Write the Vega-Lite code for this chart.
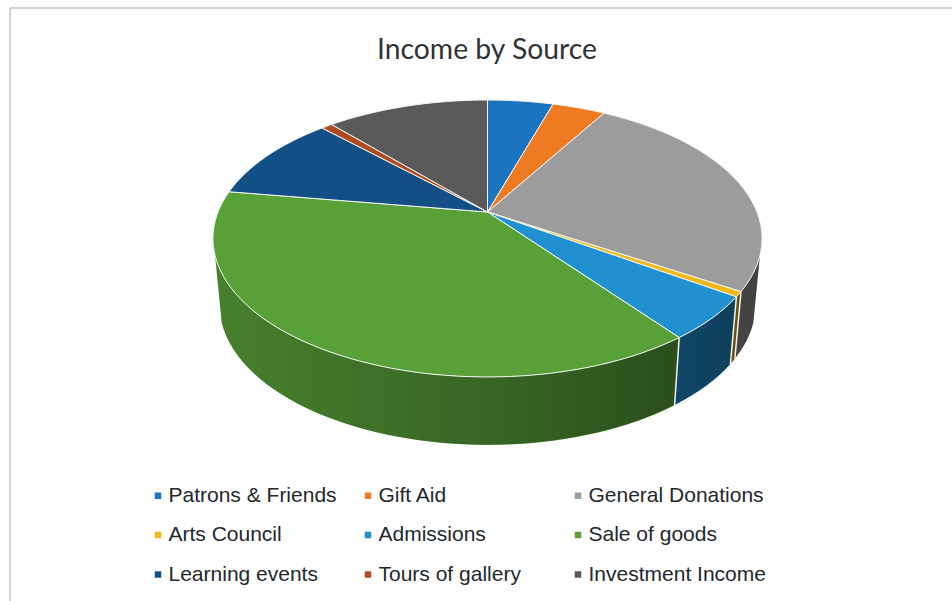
{
  "$schema": "https://vega.github.io/schema/vega-lite/v6.json",
  "width": 952,
  "height": 601,
  "padding": 0,
  "autosize": "none",
  "background": "#fefefe",
  "title": {
    "text": "Income by Source",
    "orient": "top",
    "anchor": "middle",
    "dx": 11,
    "offset": -65,
    "font": "Lato",
    "fontSize": 28.3,
    "fontWeight": "normal",
    "color": "#2f3336"
  },
  "data": {
    "values": [
      {"source": "Patrons & Friends", "share": 4.65},
      {"source": "Gift Aid", "share": 3.75},
      {"source": "General Donations", "share": 25.6},
      {"source": "Arts Council", "share": 0.6},
      {"source": "Admissions", "share": 5.1},
      {"source": "Sale of goods", "share": 37.8},
      {"source": "Learning events", "share": 10.2},
      {"source": "Tours of gallery", "share": 0.8},
      {"source": "Investment Income", "share": 11.5}
    ]
  },
  "transform": [
    {"window": [{"op": "sum", "field": "share", "as": "cum"}]},
    {"calculate": "datum.cum - datum.share", "as": "from"}
  ],
  "encoding": {
    "x": {"datum": 487.5, "type": "quantitative", "scale": {"domain": [0, 952], "nice": false, "zero": false}, "axis": null},
    "y": {"datum": 212, "type": "quantitative", "scale": {"domain": [0, 601], "nice": false, "zero": false, "reverse": true}, "axis": null}
  },
  "layer": [
    {
      "transform": [{"aggregate": [{"op": "count", "as": "n"}]}],
      "mark": {"type": "rule", "color": "#c4c4c4", "strokeWidth": 1.5},
      "encoding": {"x": {"datum": 10}, "y": {"datum": 8}, "y2": {"datum": 601}}
    },
    {
      "transform": [{"aggregate": [{"op": "count", "as": "n"}]}],
      "mark": {"type": "rule", "color": "#c4c4c4", "strokeWidth": 1.5},
      "encoding": {"x": {"datum": 10}, "x2": {"datum": 952}, "y": {"datum": 8}}
    },
    {
      "description": "Side wall of each slice on the visible front of the disc",
      "transform": [
        {"calculate": "max(datum.from * 3.6, 108) * PI / 180", "as": "t1"},
        {"calculate": "min(datum.cum * 3.6, 252) * PI / 180", "as": "t2"},
        {"filter": "datum.t2 > datum.t1"},
        {"calculate": "1 + 0.191 * cos(datum.t1)", "as": "w1"},
        {"calculate": "1 + 0.191 * cos(datum.t2)", "as": "w2"},
        {"calculate": "'M' + round(26950 * sin(datum.t1) / datum.w1) / 100 + ',' + round(-13340 * cos(datum.t1) / datum.w1) / 100 + 'A274.5,138.5,0,0,1,' + round(26950 * sin(datum.t2) / datum.w2) / 100 + ',' + round(-13340 * cos(datum.t2) / datum.w2) / 100 + 'L' + round(26300 * sin(datum.t2) / datum.w2) / 100 + ',' + round(6630 - 13480 * cos(datum.t2) / datum.w2) / 100 + 'A268,140,0,0,0,' + round(26300 * sin(datum.t1) / datum.w1) / 100 + ',' + round(6630 - 13480 * cos(datum.t1) / datum.w1) / 100 + 'Z'", "as": "wall"}
      ],
      "mark": {"type": "point", "filled": true, "opacity": 1, "size": 4, "strokeWidth": 0},
      "encoding": {
        "color": {"field": "source", "type": "nominal", "sort": null},
        "shape": {"field": "wall", "type": "nominal", "scale": null}
      }
    },
    {
      "description": "Shading across the whole side wall, darker towards the right",
      "transform": [
        {"aggregate": [{"op": "count", "as": "n"}]},
        {"calculate": "108 * PI / 180", "as": "t1"},
        {"calculate": "252 * PI / 180", "as": "t2"},
        {"calculate": "1 + 0.191 * cos(datum.t1)", "as": "w1"},
        {"calculate": "1 + 0.191 * cos(datum.t2)", "as": "w2"},
        {"calculate": "'M' + round(26950 * sin(datum.t1) / datum.w1) / 100 + ',' + round(-13340 * cos(datum.t1) / datum.w1) / 100 + 'A274.5,138.5,0,0,1,' + round(26950 * sin(datum.t2) / datum.w2) / 100 + ',' + round(-13340 * cos(datum.t2) / datum.w2) / 100 + 'L' + round(26300 * sin(datum.t2) / datum.w2) / 100 + ',' + round(6630 - 13480 * cos(datum.t2) / datum.w2) / 100 + 'A268,140,0,0,0,' + round(26300 * sin(datum.t1) / datum.w1) / 100 + ',' + round(6630 - 13480 * cos(datum.t1) / datum.w1) / 100 + 'Z'", "as": "wall"}
      ],
      "mark": {
        "type": "point",
        "filled": true,
        "opacity": 1,
        "size": 4,
        "fill": {
          "gradient": "linear",
          "x1": 0,
          "y1": 0,
          "x2": 1,
          "y2": 0,
          "stops": [
            {"offset": 0, "color": "rgba(0,0,0,0.2)"},
            {"offset": 0.55, "color": "rgba(0,0,0,0.38)"},
            {"offset": 1, "color": "rgba(0,0,0,0.58)"}
          ]
        }
      },
      "encoding": {"shape": {"field": "wall", "type": "nominal", "scale": null}}
    },
    {
      "description": "Light edges between neighbouring walls",
      "transform": [
        {"calculate": "max(datum.from * 3.6, 108) * PI / 180", "as": "t1"},
        {"calculate": "min(datum.cum * 3.6, 252) * PI / 180", "as": "t2"},
        {"filter": "datum.t2 > datum.t1"},
        {"calculate": "1 + 0.191 * cos(datum.t2)", "as": "w2"},
        {"filter": "datum.t2 < 252 * PI / 180"},
        {"calculate": "'M' + round(26950 * sin(datum.t2) / datum.w2) / 100 + ',' + round(-13340 * cos(datum.t2) / datum.w2) / 100 + 'L' + round(26300 * sin(datum.t2) / datum.w2) / 100 + ',' + round(6630 - 13480 * cos(datum.t2) / datum.w2) / 100", "as": "edge"}
      ],
      "mark": {"type": "point", "filled": false, "opacity": 1, "size": 4, "stroke": "#f2f4ee", "strokeWidth": 1.5},
      "encoding": {"shape": {"field": "edge", "type": "nominal", "scale": null}}
    },
    {
      "description": "Top face: one wedge per source, sized by its share",
      "transform": [
        {"calculate": "datum.from * PI / 50", "as": "t1"},
        {"calculate": "datum.cum * PI / 50", "as": "t2"},
        {"calculate": "1 + 0.191 * cos(datum.t1)", "as": "w1"},
        {"calculate": "1 + 0.191 * cos(datum.t2)", "as": "w2"},
        {"calculate": "'M0,0L' + round(26950 * sin(datum.t1) / datum.w1) / 100 + ',' + round(-13340 * cos(datum.t1) / datum.w1) / 100 + 'A274.5,138.5,0,0,1,' + round(26950 * sin(datum.t2) / datum.w2) / 100 + ',' + round(-13340 * cos(datum.t2) / datum.w2) / 100 + 'Z'", "as": "wedge"}
      ],
      "mark": {"type": "point", "filled": true, "opacity": 1, "size": 4, "stroke": "#f4f6f2", "strokeWidth": 1},
      "encoding": {
        "color": {
          "field": "source",
          "type": "nominal",
          "sort": null,
          "scale": {
            "domain": ["Patrons & Friends", "Gift Aid", "General Donations", "Arts Council", "Admissions", "Sale of goods", "Learning events", "Tours of gallery", "Investment Income"],
            "range": ["#1a74c0", "#ee7a22", "#9c9c9c", "#f0b818", "#2090d0", "#58a038", "#124f85", "#b04a20", "#595959"]
          },
          "legend": {
            "title": null,
            "orient": "none",
            "direction": "horizontal",
            "legendX": 147.5,
            "legendY": 485,
            "columns": 3,
            "gridAlign": "all",
            "columnPadding": 11,
            "rowPadding": 17.5,
            "symbolType": "square",
            "symbolSize": 42,
            "symbolOpacity": 1,
            "symbolStrokeWidth": 0,
            "labelFont": "Liberation Sans",
            "labelFontSize": 21,
            "labelColor": "#23282c",
            "labelOffset": 0,
            "labelLimit": 300
          }
        },
        "shape": {"field": "wedge", "type": "nominal", "scale": null}
      }
    }
  ],
  "config": {"view": {"stroke": null}}
}
